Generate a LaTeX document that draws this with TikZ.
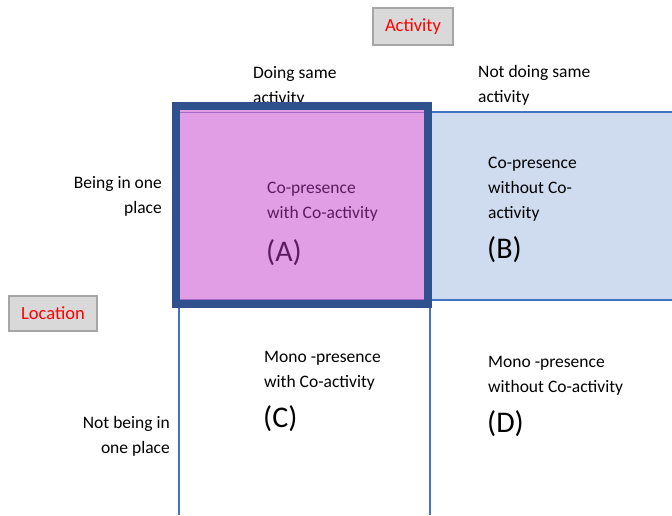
\documentclass[tikz,border=0pt]{standalone}
\usepackage{fontspec}
\setmainfont{Carlito}
\definecolor{framebl}{HTML}{2F528F}
\definecolor{linebl}{HTML}{4472C4}
\definecolor{cellpink}{HTML}{E29EE5}
\definecolor{pinkedge}{HTML}{A66AC9}
\definecolor{cellblue}{HTML}{CFDCEF}
\definecolor{tagfill}{HTML}{D9D9D9}
\definecolor{tagedge}{HTML}{A6A6A6}
\definecolor{darkplum}{HTML}{5A1C5E}
% multi-line text nodes are placed by the baseline of their last line
\tikzset{
  txt/.style={inner sep=0pt, anchor=base west, align=left,
    font=\fontsize{17.5}{25}\selectfont},
  rtxt/.style={inner sep=0pt, anchor=base east, align=right,
    font=\fontsize{17.5}{25}\selectfont},
  letter/.style={inner sep=0pt, anchor=base west,
    font=\fontsize{30}{36}\selectfont},
  tag/.style={draw=tagedge, line width=1.2pt, fill=tagfill, text=red,
    font=\fontsize{18.5}{22}\selectfont, inner sep=0pt},
  gridline/.style={draw=linebl, line width=1.6pt}
}
\begin{document}
\begin{tikzpicture}[x=1pt,y=-1pt]
\useasboundingbox (0,0) rectangle (672,515);

% column and row headings
\node[tag, minimum width=80pt, minimum height=37pt] (activity) at (413,26.5) {Activity};
\node[tag, minimum width=88pt, minimum height=35pt] (location) at (53,313.5) {Location};
\node[txt] (doing) at (253,103) {Doing same\\activity};
\node[txt] (notdoing) at (478,102) {Not doing same\\activity};
\node[rtxt] (inplace) at (162,213) {Being in one\\place};
\node[rtxt] (notinplace) at (170,453) {Not being in\\one place};

% cell B: light blue band to the right
\path[fill=cellblue] (430,112) rectangle (672,300);
\draw[gridline] (430,112) -- (672,112);
\draw[gridline] (430,300) -- (672,300);

% lower grid lines of cells C and D
\coordinate (cl) at (179,304);
\coordinate (clb) at (179,515);
\coordinate (cr) at (430,300);
\coordinate (crb) at (430,515);
\draw[gridline] (cl) -- (clb);
\draw[gridline] (cr) -- (crb);

% cell A: pink fill in a heavy frame
\path[fill=cellpink] (178,108) rectangle (426,302);
\draw[pinkedge, line width=1pt] (180,112) -- (425,112);
\draw[pinkedge, line width=1pt] (180,299.5) -- (425,299.5);
\draw[framebl, line width=8pt] (176,106) rectangle (428,304);

% cell texts
\node[txt, text=darkplum] (atext) at (267,218) {Co-presence\\with Co-activity};
\node[letter, text=darkplum] (aletter) at (266,261) {(A)};
\node[txt] (btext) at (488,218) {Co-presence\\without Co-\\activity};
\node[letter] (bletter) at (487,258) {(B)};
\node[txt] (ctext) at (264,387) {Mono -presence\\with Co-activity};
\node[letter] (cletter) at (263,427) {(C)};
\node[txt] (dtext) at (488,392) {Mono -presence\\without Co-activity};
\node[letter] (dletter) at (487,432) {(D)};
\end{tikzpicture}
\end{document}
